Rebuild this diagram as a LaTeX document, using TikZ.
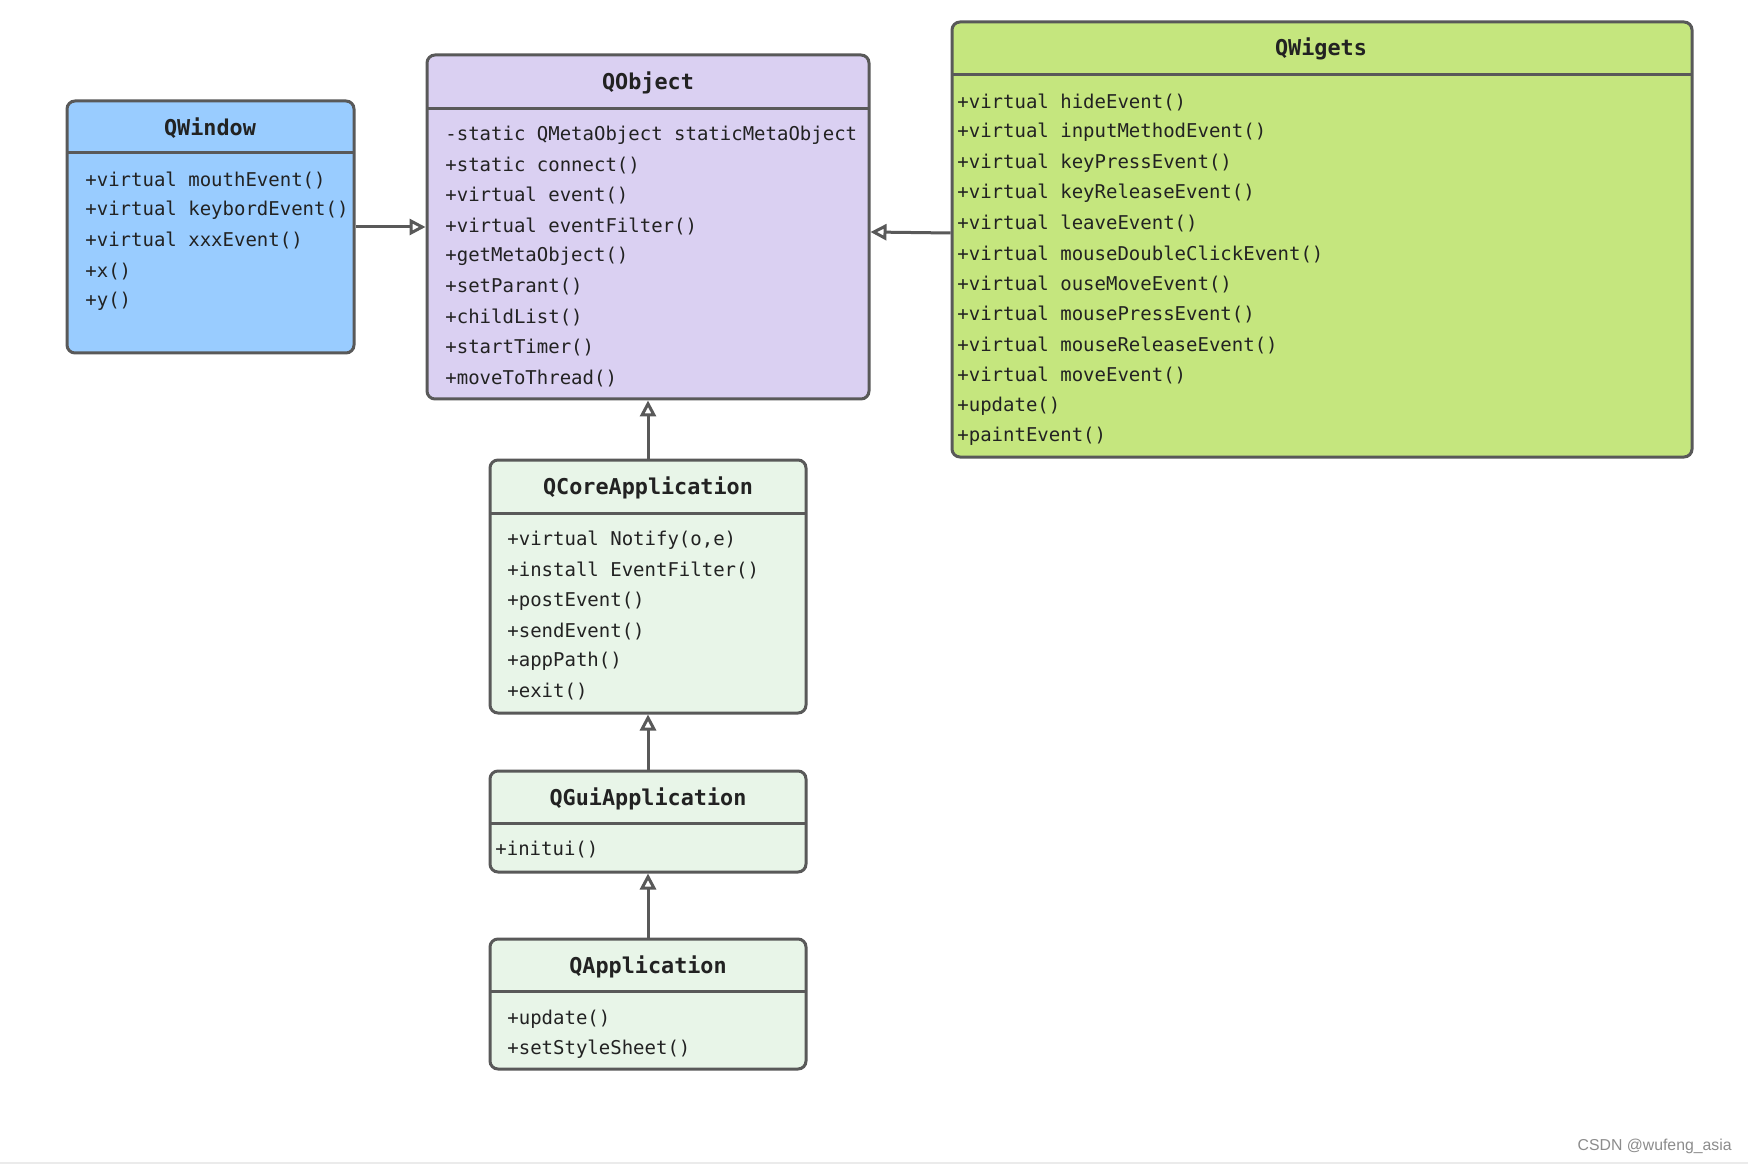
\documentclass[tikz,border=0pt]{standalone}
\usepackage{fontspec}
\setmonofont{DejaVu Sans Mono}
\newfontfamily\wmfont{Liberation Sans}
\usetikzlibrary{fit,arrows.meta}
\definecolor{cwin}{HTML}{99CCFF}
\definecolor{cobj}{HTML}{DAD0F2}
\definecolor{cwig}{HTML}{C5E67E}
\definecolor{capp}{HTML}{E8F5E8}
\definecolor{linec}{HTML}{595959}
\definecolor{txt}{HTML}{222222}
\newcommand\classmembers[4]{%
  \foreach \t [count=\i from 0] in {#3} {\node[mem] (#4-\i) at (#1, {#2+2+30.4*\i}) {\t};}}
\begin{document}
\begin{tikzpicture}[x=0.5pt,y=-0.5pt,
  cls/.style={draw=linec, line width=1.5pt, rounded corners=4pt, inner sep=0pt},
  sepline/.style={draw=linec, line width=1.5pt},
  title/.style={font=\ttfamily\bfseries\fontsize{10.9}{12}\selectfont, text=txt, inner sep=0pt, yshift=-0.75pt},
  mem/.style={font=\ttfamily\fontsize{9.5}{11}\selectfont, anchor=west, inner sep=0pt, text=txt},
  inh/.style={draw=linec, line width=1.5pt, -{Triangle[open, length=8pt, width=8pt]}}
]
\useasboundingbox (0,0) rectangle (1748,1165);
\fill[white] (0,0) rectangle (1748,1165);
\draw[black!8, line width=1pt] (0,1163) -- (1748,1163);

% QWindow
\node[cls, fill=cwin, fit={(67,101) (354,353)}] (qwin) {};
\draw[sepline] (67,153) -- (354,153);
\node[title] (qwin-t) at (210,127) {QWindow};
\classmembers{85}{178}{+virtual mouthEvent(),+virtual keybordEvent(),+virtual xxxEvent(),+x(),+y()}{qwinm}

% QObject
\node[cls, fill=cobj, fit={(427,55) (869,399)}] (qobj) {};
\draw[sepline] (427,109) -- (869,109);
\node[title] (qobj-t) at (648,81) {QObject};
\classmembers{445}{133}{-static QMetaObject staticMetaObject,+static connect(),+virtual event(),+virtual eventFilter(),+getMetaObject(),+setParant(),+childList(),+startTimer(),+moveToThread()}{qobjm}

% QWigets
\node[cls, fill=cwig, fit={(952,22) (1692,457)}] (qwig) {};
\draw[sepline] (952,75) -- (1692,75);
\node[title] (qwig-t) at (1321,47) {QWigets};
\classmembers{957}{100}{+virtual hideEvent(),+virtual inputMethodEvent(),+virtual keyPressEvent(),+virtual keyReleaseEvent(),+virtual leaveEvent(),+virtual mouseDoubleClickEvent(),+virtual ouseMoveEvent(),+virtual mousePressEvent(),+virtual mouseReleaseEvent(),+virtual moveEvent(),+update(),+paintEvent()}{qwigm}

% QCoreApplication
\node[cls, fill=capp, fit={(490,460) (806,713)}] (qcore) {};
\draw[sepline] (490,513) -- (806,513);
\node[title] (qcore-t) at (648,486) {QCoreApplication};
\classmembers{507}{538}{{+virtual Notify(o,e)},+install EventFilter(),+postEvent(),+sendEvent(),+appPath(),+exit()}{qcorem}

% QGuiApplication
\node[cls, fill=capp, fit={(490,771) (806,872)}] (qgui) {};
\draw[sepline] (490,823) -- (806,823);
\node[title] (qgui-t) at (648,797) {QGuiApplication};
\classmembers{495}{848}{+initui()}{qguim}

% QApplication
\node[cls, fill=capp, fit={(490,939) (806,1069)}] (qapp) {};
\draw[sepline] (490,991) -- (806,991);
\node[title] (qapp-t) at (648,965) {QApplication};
\classmembers{507}{1017}{+update(),+setStyleSheet()}{qappm}

% connectors
\draw[inh] (qwin.east) -- (qobj.west);
\draw[inh] ([yshift=3.25pt]qwig.west) -- ([yshift=-2.5pt]qobj.east);
\draw[inh] (qcore.north) -- (qobj.south);
\draw[inh] (qgui.north) -- (qcore.south);
\draw[inh] (qapp.north) -- (qgui.south);

\node[anchor=east, inner sep=0pt, font=\wmfont\fontsize{7.9}{9}\selectfont, text=black!45] (wm) at (1732,1146) {CSDN @wufeng\_asia};
\end{tikzpicture}
\end{document}
